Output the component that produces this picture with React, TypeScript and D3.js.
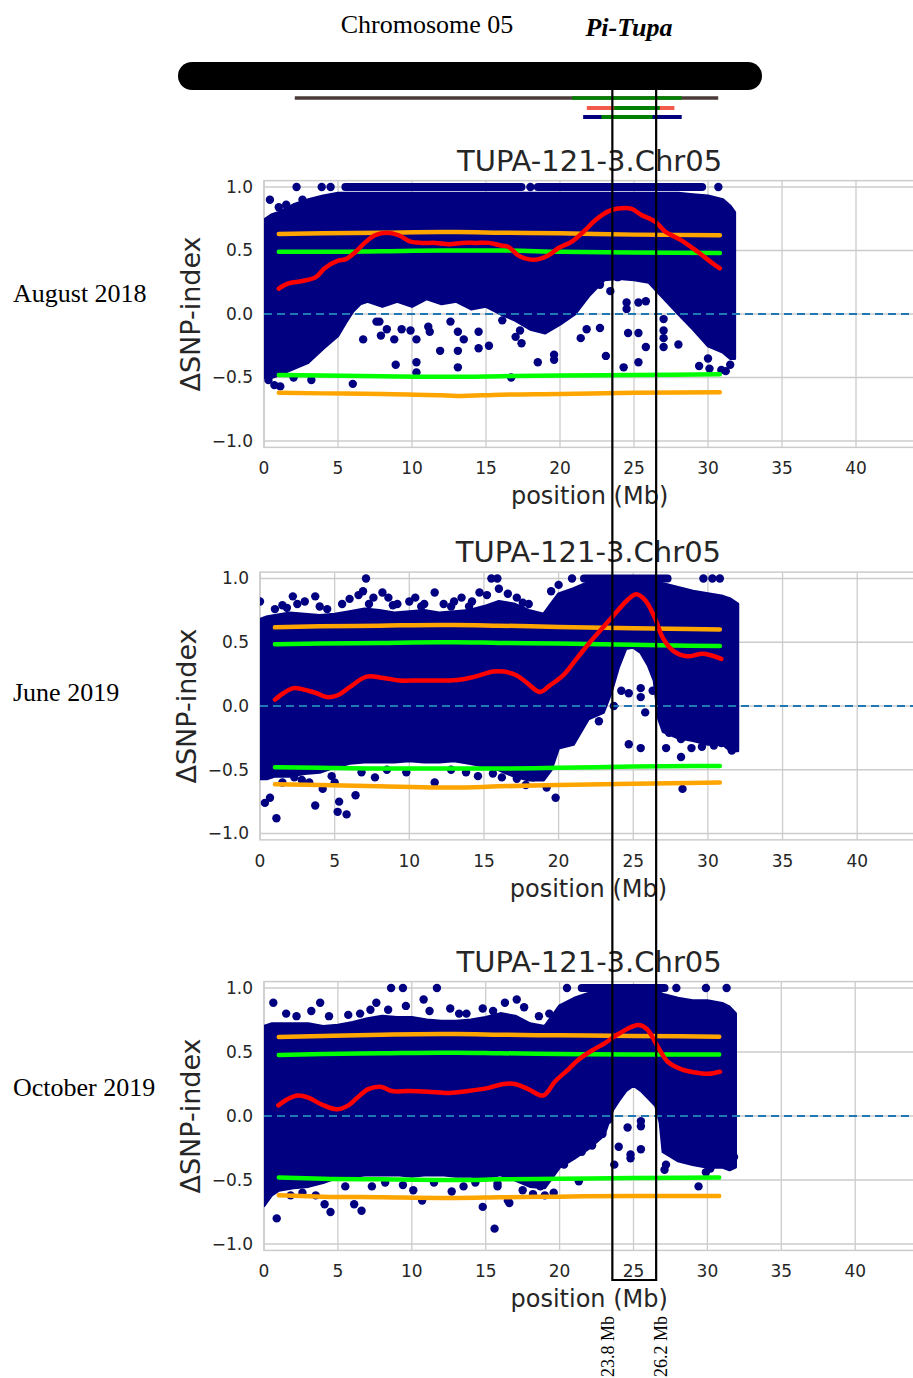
import React from 'react';
import * as d3 from 'd3';

const W = 913;
const H = 1378;

// ---------- data ----------
const xTicks = [0, 5, 10, 15, 20, 25, 30, 35, 40];
const yTicks = [-1, -0.5, 0, 0.5, 1];
const panelTitle = 'TUPA-121-3.Chr05';
const dateLabels = ['August 2018', 'June 2019', 'October 2019'];

// chromosome sketch (Mb)
const chromSpan = [0, 32];
const boxMb = [23.8, 26.2];
const trackBrown = [6.4, 29.6];
const trackBrownGreen = [21.6, 27.6];
const trackRed = [22.4, 27.2];
const trackRedGreen = [23.9, 26.4];
const trackBlue = [22.2, 27.6];
const trackBlueGreen = [23.2, 26.0];

// dense SNP cloud envelope: [position Mb, lower, upper]
const env1 = [
  [0, -0.5, 0.74], [0.5, -0.5, 0.78], [1, -0.48, 0.8], [2, -0.43, 0.86], [3, -0.38, 0.9], [4, -0.27, 0.93],
  [5, -0.17, 0.95], [5.5, -0.07, 0.95], [6, 0.02, 0.95], [6.5, 0.08, 0.95], [7, 0.1, 0.95], [8, 0.06, 0.95],
  [9, 0.1, 0.95], [10, 0.06, 0.95], [11, 0.12, 0.95], [12, 0.08, 0.95], [13, 0.1, 0.95], [14, 0.04, 0.95],
  [15, 0.06, 0.95], [16, 0.0, 0.95], [17, -0.05, 0.95], [18, -0.12, 0.95], [19, -0.15, 0.95], [20, -0.08, 0.95],
  [21, 0.0, 0.95], [22, 0.15, 0.95], [23, 0.27, 0.95], [24, 0.28, 0.95], [25, 0.27, 0.95], [26, 0.25, 0.95],
  [26.8, 0.15, 0.95], [27.2, 0.1, 0.95], [28, 0.0, 0.95], [29, -0.12, 0.94], [30, -0.25, 0.93], [31, -0.3, 0.9],
  [31.5, -0.35, 0.85], [31.8, -0.35, 0.8],
];
const env2 = [
  [0, -0.57, 0.68], [0.5, -0.57, 0.7], [1, -0.55, 0.71], [2, -0.55, 0.73], [3, -0.53, 0.72], [4, -0.52, 0.71],
  [5, -0.48, 0.72], [6, -0.45, 0.74], [7, -0.44, 0.76], [8, -0.44, 0.75], [9, -0.44, 0.73], [10, -0.43, 0.74],
  [11, -0.44, 0.75], [12, -0.44, 0.73], [13, -0.43, 0.74], [14, -0.45, 0.75], [15, -0.47, 0.78], [16, -0.5, 0.82],
  [17, -0.55, 0.8], [18, -0.58, 0.75], [19, -0.58, 0.72], [19.5, -0.5, 0.8], [20, -0.33, 0.88], [21, -0.3, 0.92],
  [22, -0.1, 0.97], [23, -0.05, 0.98], [23.5, 0.1, 0.98], [24, 0.3, 0.98], [24.5, 0.45, 0.98], [25, 0.46, 0.98],
  [25.5, 0.42, 0.98], [26, 0.32, 0.98], [26.4, 0.2, 0.98], [26.7, -0.1, 0.97], [27, -0.2, 0.96], [28, -0.25, 0.93],
  [29, -0.27, 0.9], [30, -0.3, 0.88], [31, -0.3, 0.86], [31.5, -0.35, 0.84], [32, -0.35, 0.8],
];
const env3 = [
  [0, -0.7, 0.7], [0.5, -0.62, 0.72], [1, -0.58, 0.72], [2, -0.56, 0.72], [3, -0.55, 0.72], [4, -0.52, 0.7],
  [5, -0.48, 0.71], [6, -0.47, 0.73], [7, -0.46, 0.76], [8, -0.46, 0.78], [9, -0.46, 0.77], [10, -0.47, 0.77],
  [11, -0.46, 0.75], [12, -0.46, 0.74], [13, -0.47, 0.74], [14, -0.47, 0.75], [15, -0.48, 0.77], [16, -0.46, 0.8],
  [17, -0.5, 0.78], [18, -0.55, 0.72], [19, -0.56, 0.7], [20, -0.4, 0.86], [21, -0.33, 0.92], [22, -0.25, 0.96],
  [23, -0.15, 0.96], [23.6, 0.05, 0.96], [24, 0.12, 0.96], [24.5, 0.2, 0.96], [25, 0.24, 0.96], [25.5, 0.2, 0.96],
  [26, 0.14, 0.96], [26.5, 0.08, 0.96], [26.8, -0.05, 0.96], [27, -0.28, 0.95], [28, -0.35, 0.92], [29, -0.38, 0.9],
  [30, -0.4, 0.9], [31, -0.4, 0.88], [31.5, -0.42, 0.85], [31.9, -0.4, 0.8],
];

// rows of points sitting at ΔSNP-index = 1.0: [from, to] Mb
const topRows1 = [[5.5, 17.4], [18.5, 29.6]];
const topRows2 = [[21.7, 27.3]];
const topRows3 = [[21.5, 27.1]];

// scattered single SNPs: [position Mb, ΔSNP-index]
const dots1 = [
  [2.2, 1], [3.9, 1], [4.5, 1], [18.0, 1], [30.7, 1], [0.4, 0.9], [1.5, 0.86], [2.6, 0.9], [1.0, 0.84],
  [7.6, -0.06], [7.8, -0.06], [7.9, -0.17], [8.3, -0.12], [8.8, -0.2], [9.3, -0.12], [8.9, -0.4], [9.9, -0.13],
  [10.3, -0.2], [10.3, -0.38], [10.3, -0.46], [11.1, -0.1], [11.2, -0.14], [11.9, -0.29], [12.6, -0.06],
  [13.1, -0.14], [13.1, -0.29], [13.1, -0.42], [13.5, -0.2], [14.5, -0.14], [14.5, -0.27], [15.2, -0.25],
  [6.7, -0.2], [6.0, -0.55], [3.2, -0.52], [0.7, -0.56], [1.1, -0.57], [0.3, -0.52], [2.0, -0.5],
  [16.1, -0.05], [17.0, -0.18], [17.3, -0.13], [17.4, -0.23], [18.5, -0.38], [19.6, -0.32], [19.6, -0.36],
  [21.4, -0.19], [21.8, -0.12], [22.7, -0.11], [23.1, -0.33], [22.7, 0.23], [23.4, 0.18], [23.9, 0.29],
  [24.3, -0.42], [24.5, 0.09], [24.5, 0.04], [24.6, -0.15], [25.3, 0.09], [25.3, -0.15], [25.3, -0.38],
  [25.8, -0.26], [25.8, 0.1], [27.0, -0.04], [27.0, -0.13], [27.0, -0.19], [27.0, -0.26], [28.0, -0.24],
  [29.4, -0.41], [30.0, -0.35], [30.1, -0.43], [30.9, -0.44], [16.7, -0.5], [31.5, -0.4], [31.2, -0.45],
];
const dots2 = [
  [7.1, 1], [15.5, 1], [15.9, 1], [20.9, 1], [29.7, 1], [30.3, 1], [30.8, 1],
  [0.0, 0.82], [1.0, 0.76], [1.5, 0.79], [2.2, 0.86], [2.5, 0.8], [3.0, 0.82], [3.7, 0.86], [4.5, 0.76],
  [5.5, 0.8], [6.0, 0.84], [6.6, 0.87], [6.9, 0.9], [7.6, 0.85], [8.2, 0.89], [8.6, 0.85], [9.2, 0.8],
  [10.0, 0.82], [10.4, 0.85], [11.0, 0.8], [11.7, 0.89], [12.3, 0.8], [13.0, 0.82], [13.5, 0.85], [14.2, 0.82],
  [14.7, 0.89], [15.2, 0.87], [16.0, 0.92], [16.6, 0.88], [17.2, 0.85], [18.0, 0.8], [19.5, 0.9], [20.0, 0.95],
  [1.8, 0.77], [4.0, 0.78], [7.3, 0.8], [8.9, 0.79], [10.8, 0.78], [12.8, 0.78], [14.0, 0.78], [17.6, 0.81],
  [0.33, -0.76], [0.67, -0.72], [1.1, -0.88], [3.7, -0.78], [4.2, -0.65], [5.3, -0.75], [5.2, -0.83],
  [5.8, -0.85], [6.4, -0.7], [7.7, -0.56], [11.7, -0.6], [14.6, -0.55], [2.3, -0.56], [5.0, -0.6],
  [1.5, -0.6], [2.8, -0.58], [3.3, -0.6], [4.8, -0.55], [6.8, -0.52], [8.5, -0.5], [9.8, -0.52], [12.8, -0.5],
  [13.8, -0.52], [16.2, -0.56], [17.8, -0.62], [19.2, -0.64],
  [22.7, -0.12], [22.1, -0.05], [23.7, 0.0], [24.2, 0.12], [24.7, 0.1], [25.5, 0.07], [25.5, 0.14],
  [26.3, 0.12], [24.7, -0.3], [25.5, -0.33], [25.8, -0.05], [27.4, -0.21], [28.2, -0.26], [28.2, -0.4],
  [27.2, -0.33], [28.9, -0.33], [29.6, -0.32], [30.4, -0.31], [30.9, -0.29], [31.6, -0.35], [28.3, -0.65],
  [19.8, -0.72], [18.3, -0.56], [18.6, -0.55], [17.2, -0.57], [15.6, -0.53],
];
const dots3 = [
  [8.6, 1], [9.4, 1], [11.7, 1], [20.5, 1], [27.9, 1], [29.9, 1], [31.3, 1],
  [0.63, 0.885], [1.5, 0.8], [2.2, 0.78], [3.8, 0.885], [3.2, 0.82], [4.4, 0.78], [5.7, 0.79], [6.5, 0.8],
  [7.2, 0.83], [7.6, 0.885], [8.4, 0.83], [9.6, 0.86], [10.8, 0.91], [11.2, 0.82], [12.6, 0.84], [13.2, 0.8],
  [13.7, 0.8], [14.8, 0.84], [15.5, 0.82], [16.3, 0.885], [17.1, 0.91], [17.6, 0.85], [18.6, 0.78], [19.3, 0.8],
  [0.86, -0.8], [4.1, -0.69], [4.5, -0.75], [6.1, -0.69], [6.6, -0.74], [10.1, -0.58], [10.7, -0.66],
  [12.7, -0.59], [14.8, -0.71], [15.6, -0.88], [16.5, -0.66], [9.4, -0.54], [15.8, -0.53],
  [1.8, -0.62], [2.6, -0.6], [3.5, -0.62], [5.5, -0.55], [7.3, -0.55], [8.2, -0.52], [11.5, -0.52],
  [13.5, -0.55], [14.3, -0.52], [17.5, -0.58], [19.0, -0.62], [19.6, -0.6],
  [23.3, -0.03], [24.0, -0.24], [23.7, -0.38], [24.6, -0.09], [25.5, -0.04], [25.5, -0.08], [25.5, -0.26],
  [24.8, -0.3], [24.8, -0.33], [21.3, -0.51], [20.3, -0.38], [20.7, -0.3], [21.5, -0.28], [22.2, -0.23],
  [22.9, -0.14], [27.2, -0.38], [27.1, -0.42], [29.4, -0.55], [29.9, -0.44], [30.2, -0.41], [31.8, -0.32],
  [18.2, -0.61], [18.7, -0.55], [16.6, -0.68], [15.8, -0.55],
];

// smoothed ΔSNP-index (red)
const red1 = [
  [1.0, 0.2], [1.6, 0.24], [2.6, 0.26], [3.5, 0.29], [4.1, 0.36], [5.0, 0.42], [5.5, 0.43], [6.2, 0.49],
  [6.8, 0.56], [7.5, 0.62], [8.3, 0.64], [9.1, 0.62], [9.9, 0.57], [10.7, 0.56], [11.6, 0.56], [12.5, 0.55],
  [13.4, 0.56], [14.3, 0.56], [15.2, 0.56], [16.0, 0.54], [16.5, 0.53], [17.2, 0.46], [17.9, 0.43], [18.5, 0.43],
  [19.2, 0.46], [19.9, 0.52], [20.8, 0.57], [21.7, 0.66], [22.4, 0.74], [23.3, 0.81], [23.9, 0.83], [24.8, 0.83],
  [25.5, 0.78], [26.4, 0.73], [27.1, 0.65], [28.2, 0.58], [29.3, 0.49], [30.3, 0.4], [30.8, 0.36],
];
const red2 = [
  [1.0, 0.05], [1.56, 0.1], [2.23, 0.14], [2.9, 0.13], [3.8, 0.1], [4.47, 0.07], [5.25, 0.086], [6.03, 0.15],
  [7.14, 0.23], [8.26, 0.22], [9.38, 0.2], [10.5, 0.2], [11.6, 0.2], [12.7, 0.2], [13.6, 0.21], [14.7, 0.24],
  [15.6, 0.27], [16.3, 0.27], [17.2, 0.24], [17.9, 0.18], [18.75, 0.11], [19.4, 0.16], [20.3, 0.24], [21.2, 0.37],
  [22.1, 0.5], [23.0, 0.62], [23.9, 0.74], [24.6, 0.83], [25.2, 0.876], [25.8, 0.83], [26.45, 0.69], [27.0, 0.53],
  [27.7, 0.43], [28.6, 0.39], [29.7, 0.41], [30.9, 0.37],
];
const red3 = [
  [0.97, 0.083], [1.65, 0.135], [2.32, 0.16], [3.0, 0.143], [3.9, 0.09], [4.92, 0.052], [5.71, 0.083],
  [6.38, 0.15], [7.06, 0.21], [7.96, 0.227], [8.64, 0.195], [9.77, 0.195], [11.1, 0.19], [12.5, 0.18],
  [13.8, 0.195], [15.2, 0.22], [16.2, 0.25], [16.98, 0.25], [17.88, 0.21], [18.9, 0.16], [19.69, 0.27],
  [20.6, 0.365], [21.27, 0.44], [22.17, 0.51], [23.07, 0.57], [23.97, 0.64], [25.3, 0.71], [25.9, 0.68],
  [26.7, 0.53], [27.35, 0.42], [28.26, 0.365], [29.16, 0.34], [30.06, 0.33], [30.85, 0.346],
];

// confidence thresholds (orange 99%, green 95%)
const thrPos = [1, 4, 8, 12, 13, 16, 20, 25, 30.8];
const orangeUp1 = [0.63, 0.635, 0.64, 0.645, 0.645, 0.64, 0.635, 0.625, 0.62];
const greenUp1 = [0.49, 0.49, 0.495, 0.5, 0.5, 0.5, 0.49, 0.485, 0.48];
const greenLo1 = [-0.48, -0.485, -0.49, -0.495, -0.495, -0.49, -0.485, -0.48, -0.475];
const orangeLo1 = [-0.62, -0.625, -0.63, -0.64, -0.645, -0.635, -0.63, -0.62, -0.617];
const orangeUp2 = [0.617, 0.625, 0.63, 0.636, 0.636, 0.63, 0.62, 0.61, 0.6];
const greenUp2 = [0.484, 0.49, 0.495, 0.5, 0.5, 0.495, 0.49, 0.48, 0.47];
const greenLo2 = [-0.48, -0.485, -0.49, -0.49, -0.49, -0.49, -0.485, -0.475, -0.47];
const orangeLo2 = [-0.614, -0.62, -0.63, -0.64, -0.64, -0.63, -0.62, -0.61, -0.6];
const orangeUp3 = [0.617, 0.625, 0.635, 0.64, 0.64, 0.635, 0.63, 0.625, 0.62];
const greenUp3 = [0.477, 0.485, 0.49, 0.495, 0.495, 0.49, 0.485, 0.48, 0.48];
const greenLo3 = [-0.48, -0.49, -0.495, -0.5, -0.5, -0.495, -0.49, -0.485, -0.48];
const orangeLo3 = [-0.62, -0.63, -0.635, -0.64, -0.64, -0.635, -0.63, -0.625, -0.625];

// ---------- layout ----------
const panels = [
  { left: 264, kx: 14.8, zero: 314, ky: 127, dateY: 302, env: env1, rows: topRows1, dots: dots1, red: red1,
    thr: [orangeUp1, greenUp1, greenLo1, orangeLo1] },
  { left: 260, kx: 14.93, zero: 706, ky: 127.5, dateY: 701, env: env2, rows: topRows2, dots: dots2, red: red2,
    thr: [orangeUp2, greenUp2, greenLo2, orangeLo2] },
  { left: 264, kx: 14.78, zero: 1116, ky: 128, dateY: 1096, env: env3, rows: topRows3, dots: dots3, red: red3,
    thr: [orangeUp3, greenUp3, greenLo3, orangeLo3] },
];
const thrColors = ['#ffa500', '#00ff00', '#00ff00', '#ffa500'];
const NAVY = '#000080';
const SANS = 'DejaVu Sans, sans-serif';
const SERIF = 'Liberation Serif, Times New Roman, serif';

function Panel({ p, idx }: any) {
  const x = d3.scaleLinear().domain([0, 44]).range([p.left, p.left + 44 * p.kx]);
  const y = d3.scaleLinear().domain([-1.05, 1.05]).range([p.zero + 1.05 * p.ky, p.zero - 1.05 * p.ky]);
  const [x0, x1] = x.range();
  const [yb, yt] = y.range();
  const area = d3.area<number[]>().x(d => x(d[0])).y0(d => y(d[1])).y1(d => y(d[2]));
  const line = d3.line<number[]>().x(d => x(d[0])).y(d => y(d[1])).curve(d3.curveCatmullRom);
  const thrLine = d3.line<number>().x((_, i) => x(thrPos[i])).y(d => y(d)).curve(d3.curveMonotoneX);
  const clipId = `clip${idx}`;
  return (
    <g>
      <clipPath id={clipId}>
        <rect x={x0} y={yt} width={x1 - x0} height={yb - yt} />
      </clipPath>
      {xTicks.map(t => (
        <line key={'gx' + t} x1={x(t)} x2={x(t)} y1={yt} y2={yb} stroke="#cccccc" strokeWidth={1.3} />
      ))}
      {yTicks.map(t => (
        <line key={'gy' + t} x1={x0} x2={x1} y1={y(t)} y2={y(t)} stroke="#cccccc" strokeWidth={1.3} />
      ))}
      <rect x={x0} y={yt} width={x1 - x0} height={yb - yt} fill="none" stroke="#cccccc" strokeWidth={1.5} />
      <g clipPath={`url(#${clipId})`}>
        <path d={area(p.env) || ''} fill={NAVY} stroke={NAVY} strokeWidth={3} strokeLinejoin="round" />
        {p.rows.map((r: number[], i: number) => (
          <line key={'r' + i} x1={x(r[0])} x2={x(r[1])} y1={y(1)} y2={y(1)} stroke={NAVY} strokeWidth={8} strokeLinecap="round" />
        ))}
        {p.dots.map((d: number[], i: number) => (
          <circle key={'d' + i} cx={x(d[0])} cy={y(d[1])} r={4.2} fill={NAVY} />
        ))}
        <line x1={x0} x2={x1} y1={y(0)} y2={y(0)} stroke="#1f77b4" strokeWidth={2.2} strokeDasharray="8,5" />
        {p.thr.map((t: number[], i: number) => (
          <path key={'t' + i} d={thrLine(t) || ''} fill="none" stroke={thrColors[i]} strokeWidth={4.5} strokeLinecap="round" />
        ))}
        <path d={line(p.red) || ''} fill="none" stroke="#ff0000" strokeWidth={4.5} strokeLinecap="round" strokeLinejoin="round" />
      </g>
      {xTicks.map(t => (
        <text key={'tx' + t} x={x(t)} y={yb + 27} textAnchor="middle" fontFamily={SANS} fontSize={17} fill="#262626">{t}</text>
      ))}
      {yTicks.map(t => (
        <text key={'ty' + t} x={x0 - 11} y={y(t)} dy="0.35em" textAnchor="end" fontFamily={SANS} fontSize={17} fill="#262626">
          {d3.format('.1f')(t).replace('-', '\u2212')}
        </text>
      ))}
      <text x={(x0 + x1) / 2} y={yt - 10} textAnchor="middle" fontFamily={SANS} fontSize={29} fill="#262626">{panelTitle}</text>
      <text x={(x0 + x1) / 2} y={yb + 57} textAnchor="middle" fontFamily={SANS} fontSize={24} fill="#262626">position (Mb)</text>
      <text transform={`translate(${x0 - 64},${p.zero}) rotate(-90)`} textAnchor="middle" fontFamily={SANS} fontSize={27} fill="#262626">ΔSNP-index</text>
      <text x={13} y={p.dateY} fontFamily={SERIF} fontSize={26} fill="#000">{dateLabels[idx]}</text>
    </g>
  );
}

export default function App() {
  const c = d3.scaleLinear().domain(chromSpan).range([178, 762]);
  const tracks = [
    { base: trackBrown, inner: trackBrownGreen, color: '#4a3b38', y: 98, w: 3.5 },
    { base: trackRed, inner: trackRedGreen, color: '#f25a4a', y: 108, w: 4 },
    { base: trackBlue, inner: trackBlueGreen, color: '#00007f', y: 117, w: 4 },
  ];
  const bx0 = c(boxMb[0]);
  const bx1 = c(boxMb[1]);
  return (
    <div style={{ position: 'absolute', left: 0, top: 0 }}>
      <svg width={W} height={H} style={{ display: 'block', background: '#fff' }}>
        {panels.map((p, i) => <Panel key={i} p={p} idx={i} />)}
        <text x={427} y={33} textAnchor="middle" fontFamily={SERIF} fontSize={26} fill="#000">Chromosome 05</text>
        <text x={629} y={36} textAnchor="middle" fontFamily={SERIF} fontSize={26} fontStyle="italic" fontWeight="bold" fill="#000">Pi-Tupa</text>
        <rect x={c(chromSpan[0])} y={62} width={c(chromSpan[1]) - c(chromSpan[0])} height={28} rx={14} fill="#000" />
        {tracks.map((t, i) => (
          <g key={i}>
            <line x1={c(t.base[0])} x2={c(t.base[1])} y1={t.y} y2={t.y} stroke={t.color} strokeWidth={t.w} />
            <line x1={c(t.inner[0])} x2={c(t.inner[1])} y1={t.y} y2={t.y} stroke="#008000" strokeWidth={t.w} />
          </g>
        ))}
        <path d={`M${bx0},90 V1280 H${bx1} V90`} fill="none" stroke="#000" strokeWidth={2.2} />
        <text transform={`translate(${bx0 + 2},1377) rotate(-90)`} fontFamily={SERIF} fontSize={18} fill="#000">{`${boxMb[0]} Mb`}</text>
        <text transform={`translate(${bx1 + 11},1377) rotate(-90)`} fontFamily={SERIF} fontSize={18} fill="#000">{`${boxMb[1]} Mb`}</text>
      </svg>
    </div>
  );
}
